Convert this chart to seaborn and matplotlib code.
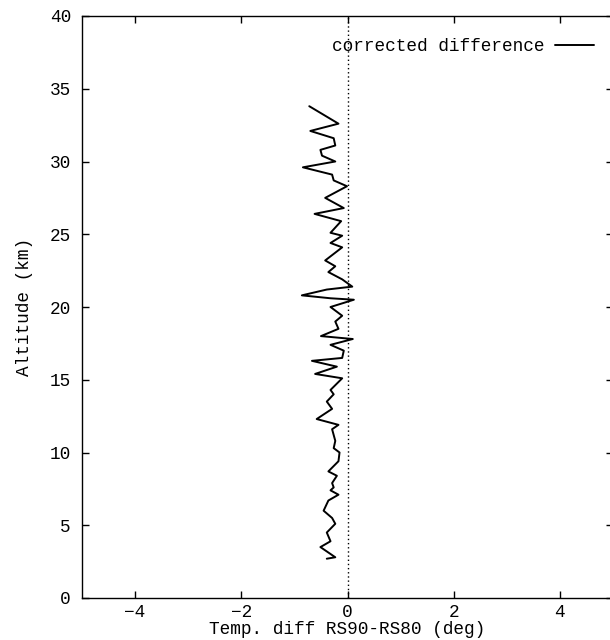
import matplotlib
matplotlib.use("Agg")
import matplotlib.pyplot as plt
import seaborn as sns
import pandas as pd

altitude_km = [33.8, 32.6, 32.1, 31.6, 31.1, 30.8, 30.4, 30.0, 29.6, 29.1, 28.7, 28.3,
               27.5, 26.8, 26.4, 25.9, 25.1, 24.9, 24.4, 24.1, 23.2, 22.8, 22.4, 21.9,
               21.4, 21.2, 20.8, 20.6, 20.5, 20.0, 19.4, 19.0, 18.5, 18.0, 17.8, 17.4,
               17.0, 16.5, 16.3, 15.9, 15.4, 15.1, 14.3, 14.0, 13.5, 13.0, 12.3, 11.9,
               11.6, 10.8, 10.3, 10.0, 9.4, 8.7, 8.4, 7.9, 7.6, 7.4, 7.1, 6.7, 6.0,
               5.5, 5.1, 4.5, 3.9, 3.5, 2.8, 2.7]
temp_diff = [-0.72, -0.17, -0.70, -0.26, -0.23, -0.51, -0.48, -0.23, -0.84, -0.29, -0.26, -0.01,
             -0.42, -0.07, -0.62, -0.12, -0.32, -0.10, -0.32, -0.10, -0.42, -0.23, -0.36, -0.10,
             0.09, -0.39, -0.86, -0.32, 0.12, -0.32, -0.10, -0.23, -0.17, -0.50, 0.10, -0.32,
             -0.07, -0.10, -0.67, -0.20, -0.61, -0.10, -0.32, -0.26, -0.39, -0.29, -0.58, -0.17,
             -0.29, -0.23, -0.26, -0.15, -0.17, -0.36, -0.20, -0.29, -0.26, -0.32, -0.17, -0.36, -0.45,
             -0.29, -0.23, -0.39, -0.32, -0.51, -0.23, -0.39]
x_ticks = [-4, -2, 0, 2, 4]
y_ticks = [0, 5, 10, 15, 20, 25, 30, 35, 40]
series_label = "corrected difference"

sns.set_style("ticks")
plt.rcParams['font.family'] = ['Liberation Mono', 'DejaVu Sans Mono']
plt.rcParams['font.size'] = 12.8
plt.rcParams['text.color'] = 'black'
plt.rcParams['axes.labelcolor'] = 'black'

df = pd.DataFrame({"temp": temp_diff, "alt": altitude_km})

fig = plt.figure(figsize=(6.1, 6.4), dpi=100)
ax = fig.add_axes([82/610, 42/640, 531/610, 582/640])

ax.axvline(0, color="black", ls=(0, (1, 2)), lw=1.0, zorder=1)
sns.lineplot(data=df, x="temp", y="alt", sort=False, estimator=None,
             color="black", lw=1.4, ax=ax, label=series_label)

ax.set_xlim(-5, 5)
ax.set_ylim(0, 40)
ax.set_xticks(x_ticks)
ax.set_yticks(y_ticks)
ax.set_xticklabels([str(t).replace('-', '\u2212') for t in x_ticks])
ax.set_xlabel("Temp. diff RS90-RS80 (deg)", labelpad=0, color="black")
ax.set_ylabel("Altitude (km)", labelpad=12, color="black")
ax.tick_params(direction="in", top=True, right=True, length=5, width=1,
               labelsize=12.8, colors="black")
ax.tick_params(axis="x", pad=4)
ax.tick_params(axis="y", pad=8)
for s in ax.spines.values():
    s.set_visible(True)
    s.set_linewidth(1.0)
    s.set_color("black")

leg = ax.legend(loc="upper right", frameon=False, markerfirst=False,
                handlelength=2.2, handletextpad=0.6, fontsize=12.8,
                bbox_to_anchor=(0.995, 0.99), labelcolor="black")
fig.savefig("out.png", dpi=100)
